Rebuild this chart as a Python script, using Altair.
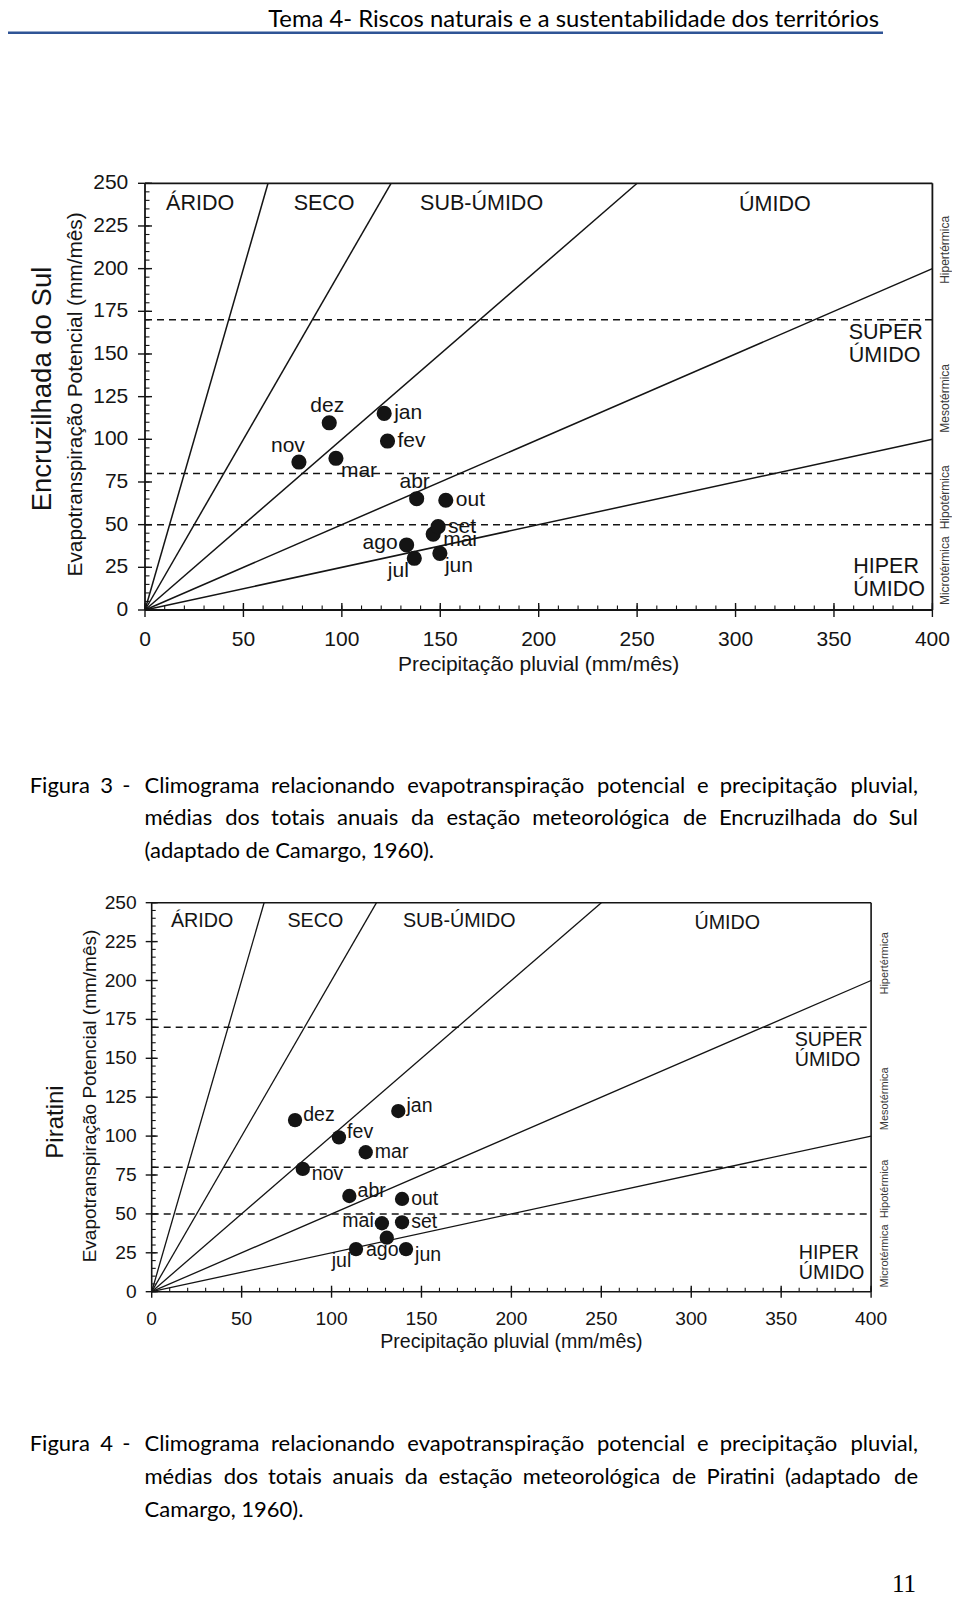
import altair as alt
import pandas as pd

# ---------------------------------------------------------------- data
MONTHS = ["jan", "fev", "mar", "abr", "mai", "jun", "jul", "ago", "set", "out", "nov", "dez"]

# Figura 3 - Encruzilhada do Sul (precipitação, evapotranspiração potencial)
ENC_P = [121.5, 123.2, 97.0, 138.0, 146.4, 149.8, 136.8, 132.9, 148.9, 152.8, 78.2, 93.6]
ENC_ETP = [115.2, 99.0, 88.9, 65.2, 44.5, 33.2, 30.3, 38.1, 48.8, 64.3, 86.7, 109.7]
ENC_LABEL_POS = ["E", "E", "SE", "N", "ESE", "SE", "SW", "W", "E", "E", "NW", "N"]

# Figura 4 - Piratini
PIR_P = [137.1, 104.1, 119.0, 109.9, 128.0, 141.4, 113.6, 130.7, 139.2, 139.2, 84.0, 79.7]
PIR_ETP = [116.1, 99.2, 89.6, 61.5, 44.0, 27.4, 27.4, 34.7, 44.6, 59.6, 78.9, 110.3]
PIR_LABEL_POS = ["ENE", "ENE", "E", "ENE", "W", "ESE", "SW", "S", "E", "E", "ESE", "ENE"]

# humidity-type boundary lines (from the origin to these end points)
BOUND_P_END = [62.5, 125, 250, 400, 400]
BOUND_ETP_END = [250, 250, 250, 200, 100]

# thermal limits (dashed) and thermal class names
THERMAL_LIMITS = [170, 80, 50]
THERMAL_NAMES = ["Hipertérmica", "Mesotérmica", "Hipotérmica", "Microtérmica"]
THERMAL_MID = [211, 124, 66, 23]

HUMID_NAMES = ["ÁRIDO", "SECO", "SUB-ÚMIDO", "ÚMIDO", "SUPER", "ÚMIDO", "HIPER", "ÚMIDO"]
HUMID_P = [28, 91, 171, 320, 357.5, 357.5, 359.8, 359.8]
HUMID_ETP = [238, 238, 238, 237, 162, 149, 25, 12]

X_TICKS = [0, 50, 100, 150, 200, 250, 300, 350, 400]
Y_TICKS = [0, 25, 50, 75, 100, 125, 150, 175, 200, 225, 250]
X_MINOR = list(range(0, 401, 10))
Y_MINOR = list(range(0, 251, 5))

X_TITLE = "Precipitação pluvial (mm/mês)"
Y_TITLE = "Evapotranspiração Potencial (mm/mês)"

HEADER = "Tema 4- Riscos naturais e a sustentabilidade dos territórios"
CAP3_HEAD = ["Figura", "3", "-"]
CAP3_L1 = "Climograma relacionando evapotranspiração potencial e precipitação pluvial,"
CAP3_L2 = "médias dos totais anuais da estação meteorológica de Encruzilhada do Sul"
CAP3_L3 = "(adaptado de Camargo, 1960)."
CAP4_HEAD = ["Figura", "4", "-"]
CAP4_L1 = "Climograma relacionando evapotranspiração potencial e precipitação pluvial,"
CAP4_L2 = "médias dos totais anuais da estação meteorológica de Piratini (adaptado de"
CAP4_L3 = "Camargo, 1960)."
PAGE_NUMBER = "11"

# ---------------------------------------------------------------- styles
INK = "#141414"
SANS = "Liberation Sans, Arial, sans-serif"
BODY = "Lato, Open Sans, sans-serif"
W, H = 944, 1591

PLACE = {
    "E": ("left", 10, 0),
    "ESE": ("left", 10, 6),
    "ENE": ("left", 9, -6),
    "SE": ("left", 5, 13),
    "N": ("center", -2, -17),
    "NW": ("center", -11, -16),
    "W": ("right", -9, -2),
    "SW": ("center", -16, 13),
    "S": ("center", -5, 14),
}
HUMID_ANCHOR = ["center"] * 4 + ["left"] * 4

G1 = dict(x0=137, x1=924.4, y0=602, y1=175.3, tick_fs=21, title_fs=21, ytitle_fs=20.8,
          station="Encruzilhada do Sul", station_fs=27.5, station_x=34.5, station_y=381,
          ytitle_x=68, ytitle_y=386.4, xtick_y=632, xtitle_y=657, ylab_x=120.3,
          therm_x=936.5, therm_fs=12, zone_fs=21.5, month_fs=21, dot=230, lw=1.5,
          frame_w=1.8, major=7, minor=4.5, k=1.0)
G2 = dict(x0=143.7, x1=863.1, y0=1283.7, y1=894.7, tick_fs=19.2, title_fs=19.6, ytitle_fs=19,
          station="Piratini", station_fs=24, station_x=48, station_y=1114,
          ytitle_x=82, ytitle_y=1088, xtick_y=1311, xtitle_y=1334, ylab_x=128.7,
          therm_x=877, therm_fs=11, zone_fs=19.7, month_fs=19.5, dot=205, lw=1.3,
          frame_w=1.6, major=6, minor=4, k=0.91)


def panel(P, E, pos, g):
    xs = alt.Scale(domain=[0, 400], range=[g["x0"], g["x1"]], nice=False, zero=False)
    ys = alt.Scale(domain=[0, 250], range=[g["y0"], g["y1"]], nice=False, zero=False)

    def X(f):
        return alt.X(f, type="quantitative", scale=xs, axis=None)

    def Y(f):
        return alt.Y(f, type="quantitative", scale=ys, axis=None)

    k = g["k"]
    L = []
    # humidity boundaries
    bdf = pd.DataFrame({"p0": [0] * len(BOUND_P_END), "e0": [0] * len(BOUND_P_END),
                        "p1": BOUND_P_END, "e1": BOUND_ETP_END})
    L.append(alt.Chart(bdf).mark_rule(color=INK, strokeWidth=g["lw"]).encode(
        x=X("p0"), x2="p1", y=Y("e0"), y2="e1"))
    # thermal dashed limits
    ddf = pd.DataFrame({"lim": THERMAL_LIMITS, "p0": [0] * 3, "p1": [400] * 3})
    L.append(alt.Chart(ddf).mark_rule(color=INK, strokeWidth=1.5, strokeDash=[7, 5]).encode(
        x=X("p0"), x2="p1", y=Y("lim")))
    # frame
    fdf = pd.DataFrame({"p0": [0, 400, 0, 0], "p1": [400, 400, 0, 400],
                        "e0": [250, 0, 0, 0], "e1": [250, 250, 250, 0]})
    L.append(alt.Chart(fdf).mark_rule(color=INK, strokeWidth=g["frame_w"]).encode(
        x=X("p0"), x2="p1", y=Y("e0"), y2="e1"))
    # ticks
    yt = pd.DataFrame({"t": Y_TICKS})
    xt = pd.DataFrame({"t": X_TICKS})
    L.append(alt.Chart(yt).mark_rule(color=INK, strokeWidth=1.4).encode(
        y=Y("t"), x=alt.value(g["x0"] - g["major"]), x2=alt.value(g["x0"] + g["major"])))
    L.append(alt.Chart(pd.DataFrame({"t": Y_MINOR})).mark_rule(color=INK, strokeWidth=1.1).encode(
        y=Y("t"), x=alt.value(g["x0"]), x2=alt.value(g["x0"] + g["minor"])))
    L.append(alt.Chart(xt).mark_rule(color=INK, strokeWidth=1.4).encode(
        x=X("t"), y=alt.value(g["y0"] - g["major"]), y2=alt.value(g["y0"] + g["major"])))
    L.append(alt.Chart(pd.DataFrame({"t": X_MINOR})).mark_rule(color=INK, strokeWidth=1.1).encode(
        x=X("t"), y=alt.value(g["y0"] - g["minor"]), y2=alt.value(g["y0"])))
    # tick labels
    L.append(alt.Chart(yt).mark_text(align="right", baseline="middle", font=SANS,
                                     fontSize=g["tick_fs"], color=INK).encode(
        y=Y("t"), x=alt.value(g["ylab_x"]), text=alt.Text("t:Q", format="d")))
    L.append(alt.Chart(xt).mark_text(align="center", baseline="middle", font=SANS,
                                     fontSize=g["tick_fs"], color=INK).encode(
        x=X("t"), y=alt.value(g["xtick_y"]), text=alt.Text("t:Q", format="d")))
    # monthly points
    pdf = pd.DataFrame({"month": MONTHS, "P": P, "E": E, "pos": pos})
    L.append(alt.Chart(pdf).mark_circle(size=g["dot"], color=INK, opacity=1).encode(
        x=X("P"), y=Y("E")))
    for code, (align, dx, dy) in PLACE.items():
        sub = pdf[pdf["pos"] == code]
        if len(sub) == 0:
            continue
        L.append(alt.Chart(sub).mark_text(align=align, baseline="middle", dx=dx * k, dy=dy * k,
                                          font=SANS, fontSize=g["month_fs"], color=INK).encode(
            x=X("P"), y=Y("E"), text="month"))
    # humidity zone names
    zdf = pd.DataFrame({"name": HUMID_NAMES, "P": HUMID_P, "E": HUMID_ETP, "anchor": HUMID_ANCHOR})
    for anchor in ["center", "left"]:
        L.append(alt.Chart(zdf[zdf["anchor"] == anchor]).mark_text(
            align=anchor, baseline="middle", font=SANS, fontSize=g["zone_fs"], color=INK).encode(
            x=X("P"), y=Y("E"), text="name"))
    # thermal class names
    tdf = pd.DataFrame({"name": THERMAL_NAMES, "mid": THERMAL_MID})
    L.append(alt.Chart(tdf).mark_text(angle=270, align="center", baseline="middle", font=SANS,
                                      fontSize=g["therm_fs"], color="#3a3a3a").encode(
        y=Y("mid"), x=alt.value(g["therm_x"]), text="name"))
    # titles
    L.append(alt.Chart(pd.DataFrame({"t": [X_TITLE]})).mark_text(
        align="center", baseline="middle", font=SANS, fontSize=g["title_fs"], color=INK).encode(
        x=alt.value((g["x0"] + g["x1"]) / 2), y=alt.value(g["xtitle_y"]), text="t"))
    L.append(alt.Chart(pd.DataFrame({"t": [Y_TITLE]})).mark_text(
        angle=270, align="center", baseline="middle", font=SANS, fontSize=g["ytitle_fs"],
        color=INK).encode(x=alt.value(g["ytitle_x"]), y=alt.value(g["ytitle_y"]), text="t"))
    L.append(alt.Chart(pd.DataFrame({"t": [g["station"]]})).mark_text(
        angle=270, align="center", baseline="middle", font=SANS, fontSize=g["station_fs"],
        color=INK).encode(x=alt.value(g["station_x"]), y=alt.value(g["station_y"]), text="t"))
    return alt.layer(*L)


# ---------------------------------------------------------------- page text layout
CAL = {' ': .226, 'a': .479, 'b': .525, 'c': .423, 'd': .525, 'e': .498, 'f': .305,
       'g': .471, 'h': .525, 'i': .229, 'j': .239, 'k': .455, 'l': .229, 'm': .799,
       'n': .525, 'o': .527, 'p': .525, 'q': .525, 'r': .349, 's': .391, 't': .335,
       'u': .525, 'v': .452, 'w': .715, 'x': .433, 'y': .453, 'z': .395, 'ç': .423,
       'ã': .479, 'á': .479, 'é': .498, 'ê': .498, 'ó': .527, 'í': .229, ',': .250,
       '.': .252, '-': .306, '(': .303, ')': .303, 'C': .533, 'E': .488, 'F': .459,
       'P': .517, 'S': .459, 'T': .487}
for d in "0123456789":
    CAL[d] = .507
REF_FS = 23.6


def justify(words, xs, xe, y, rows):
    widths = [sum(CAL.get(c, .5) for c in w) * REF_FS for w in words]
    gap = (xe - xs - sum(widths)) / (len(words) - 1)
    x = xs
    for i, w in enumerate(words):
        if i == len(words) - 1:
            rows.append((w, xe, y, "right"))
        else:
            rows.append((w, x, y, "left"))
        x += widths[i] + gap


rows = []
for head, l1, l2, l3, ys in [(CAP3_HEAD, CAP3_L1, CAP3_L2, CAP3_L3, (784.8, 817.4, 849.8)),
                              (CAP4_HEAD, CAP4_L1, CAP4_L2, CAP4_L3, (1443.3, 1476.1, 1508.9))]:
    justify(head, 21.7, 122.5, ys[0], rows)
    justify(l1.split(" "), 136.5, 910, ys[0], rows)
    justify(l2.split(" "), 136.5, 910, ys[1], rows)
    rows.append((l3, 136.5, ys[2], "left"))
page_df = pd.DataFrame(rows, columns=["text", "px", "py", "anchor"])

pxs = alt.Scale(domain=[0, W], range=[0, W], nice=False, zero=False)
pys = alt.Scale(domain=[0, H], range=[0, H], nice=False, zero=False)
PX = lambda f: alt.X(f, type="quantitative", scale=pxs, axis=None)
PY = lambda f: alt.Y(f, type="quantitative", scale=pys, axis=None)

page_layers = [
    alt.Chart(pd.DataFrame({"x0": [0], "x1": [875], "y": [24.8]})).mark_rule(
        color="#2f5496", strokeWidth=2.5).encode(x=PX("x0"), x2="x1", y=PY("y")),
    alt.Chart(pd.DataFrame({"text": [HEADER], "px": [871], "py": [19]})).mark_text(
        align="right", baseline="alphabetic", font=BODY, fontSize=23.8, color="#000000").encode(
        x=PX("px"), y=PY("py"), text="text"),
]
for anchor in ["left", "right"]:
    page_layers.append(alt.Chart(page_df[page_df["anchor"] == anchor]).mark_text(
        align=anchor, baseline="alphabetic", font=BODY, fontSize=22, color="#000000").encode(
        x=PX("px"), y=PY("py"), text="text"))
page_layers.append(alt.Chart(pd.DataFrame({"text": [PAGE_NUMBER], "px": [908], "py": [1584]})).mark_text(
    align="right", baseline="alphabetic", font="Liberation Serif, DejaVu Serif, serif",
    fontSize=25, color="#000000").encode(x=PX("px"), y=PY("py"), text="text"))
page = alt.layer(*page_layers)

fig3 = panel(ENC_P, ENC_ETP, ENC_LABEL_POS, G1)
fig4 = panel(PIR_P, PIR_ETP, PIR_LABEL_POS, G2)

chart = alt.layer(page, fig3, fig4).resolve_scale(
    x="independent", y="independent"
).properties(
    width=W, height=H, padding=0, autosize=alt.AutoSizeParams(type="none"),
    background="white"
).configure_view(stroke="transparent")

chart.save("out.html", embed_options={"renderer": "svg", "actions": False})
